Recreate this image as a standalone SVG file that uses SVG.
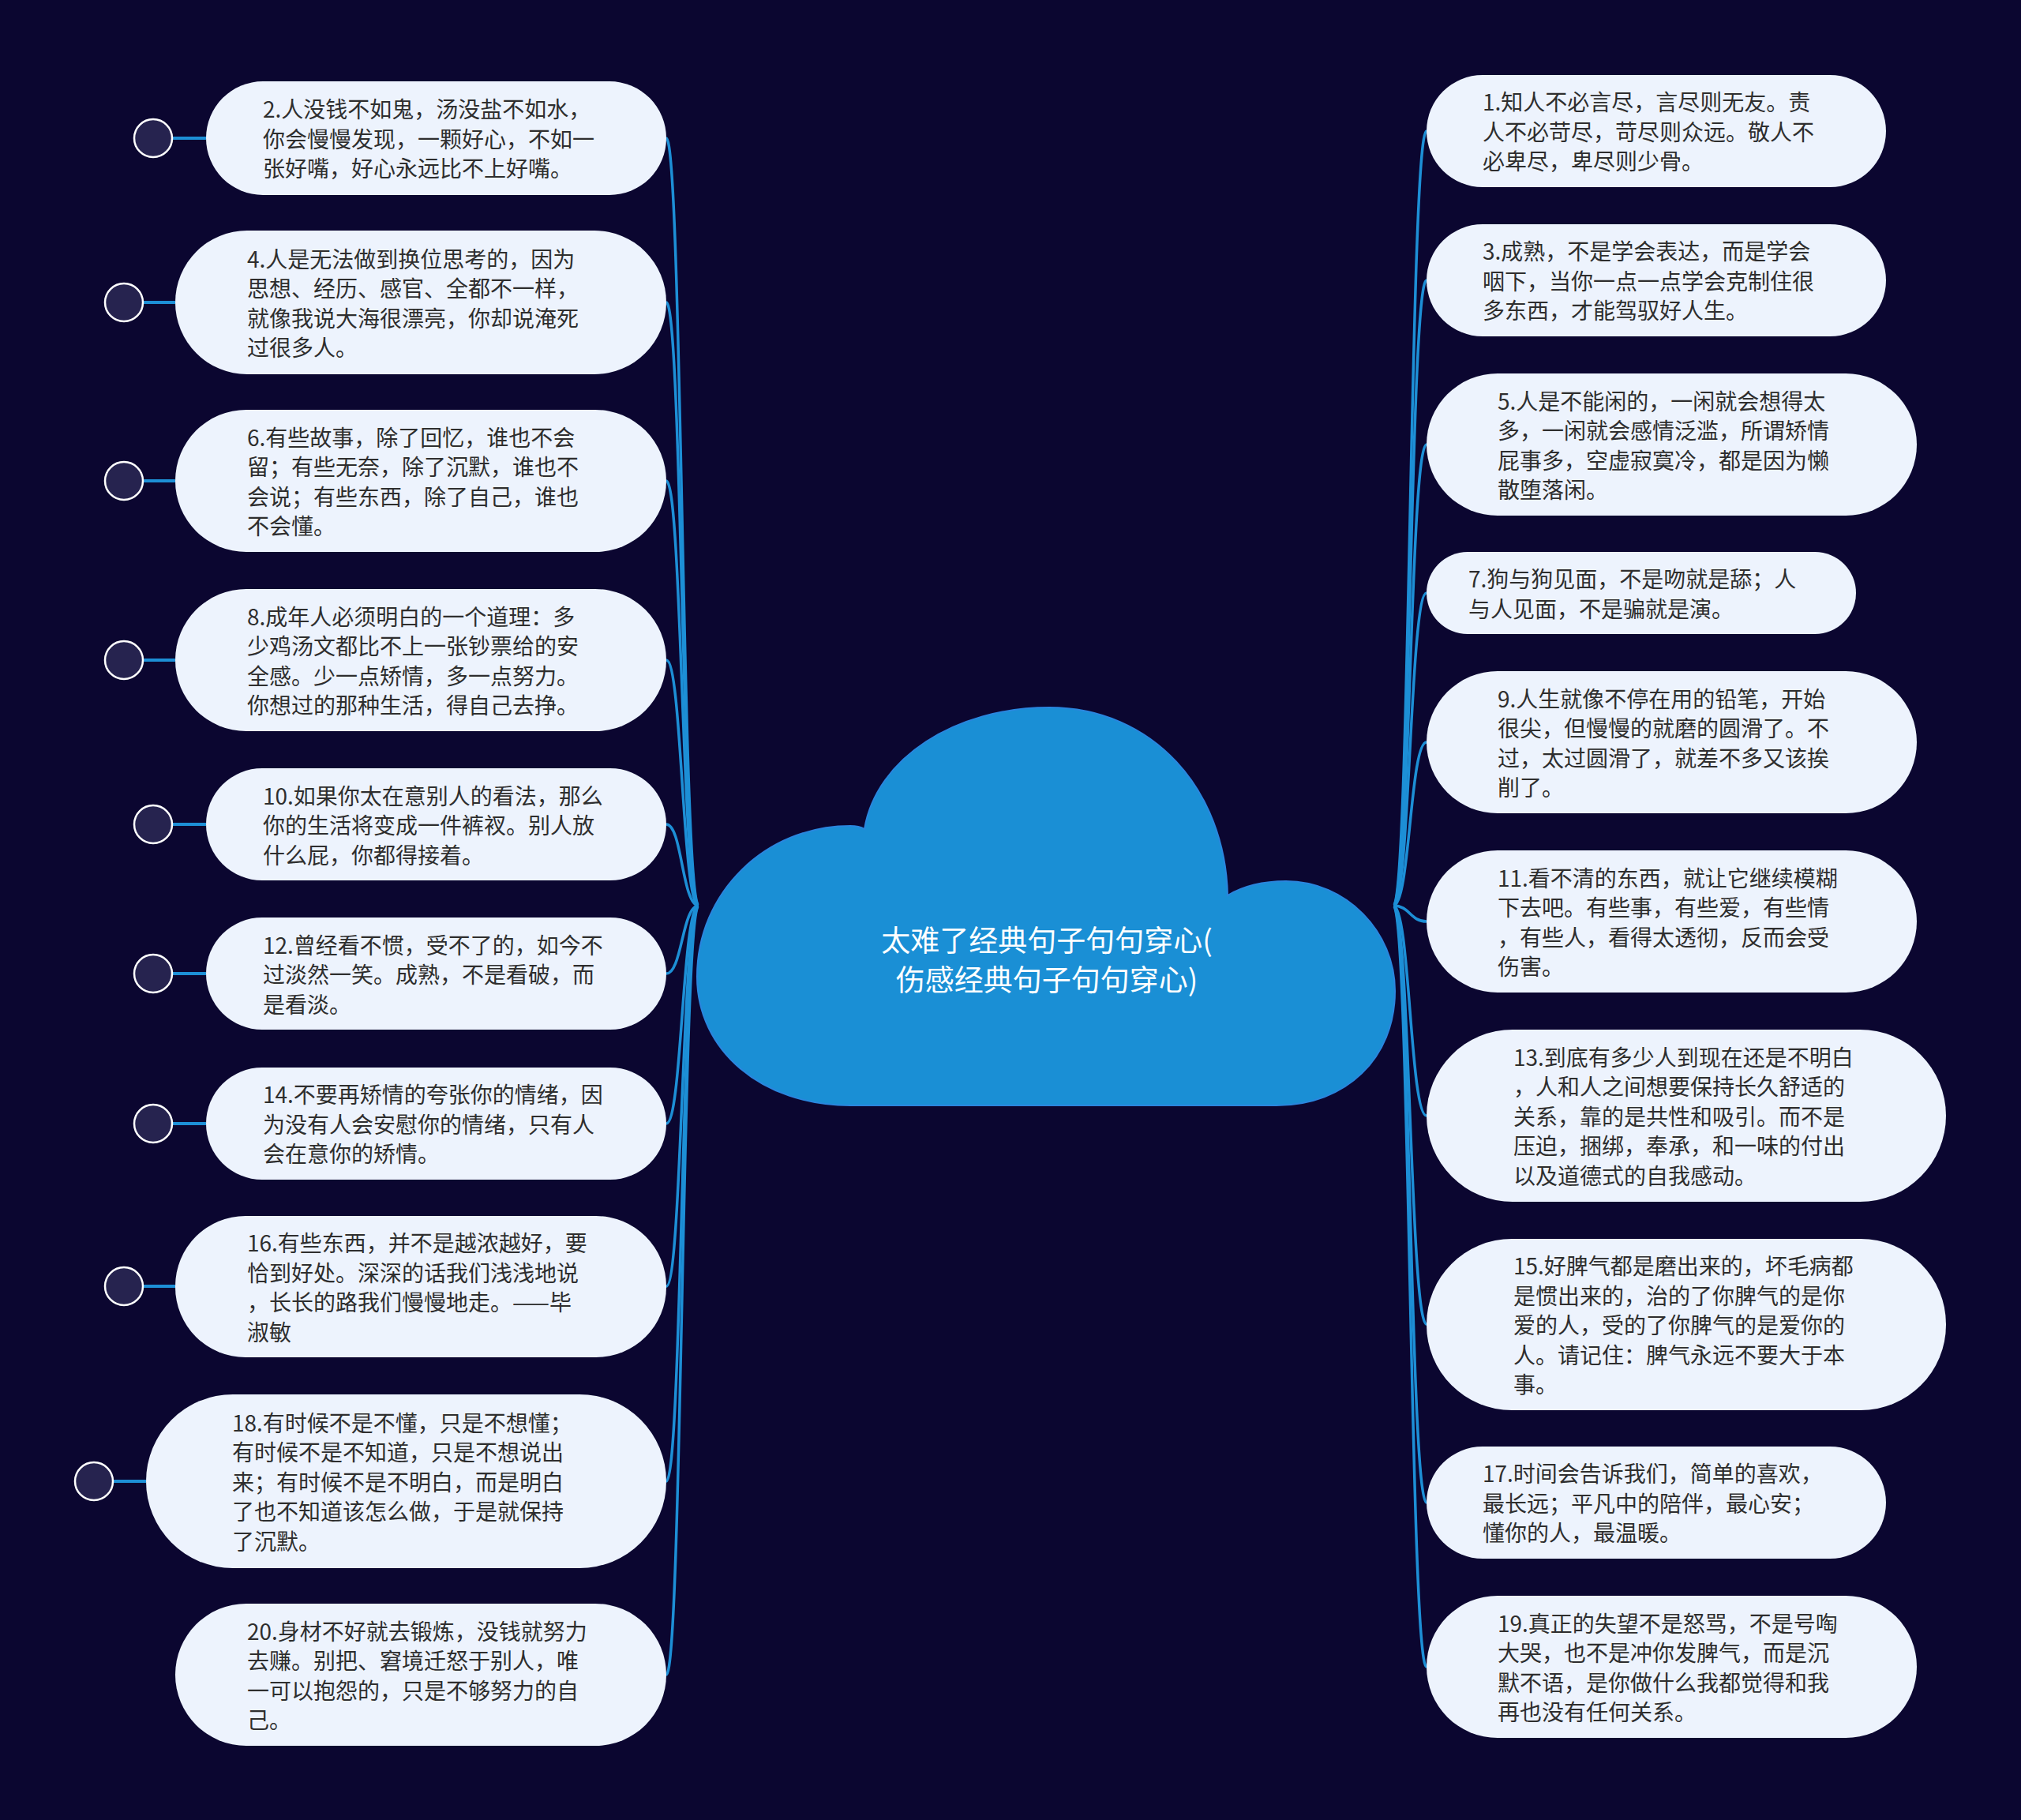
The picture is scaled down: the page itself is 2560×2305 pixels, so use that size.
<svg xmlns="http://www.w3.org/2000/svg" width="2560" height="2305" viewBox="0 0 2560 2305">
<style>
.bg{fill:#0b0630}
.node rect{fill:#edf3fd}
.node text{font-family:"Noto Sans CJK SC","Noto Sans",sans-serif;font-size:28px;fill:#2e2e2e;dominant-baseline:central}
.dot{fill:#26234f;stroke:#ffffff;stroke-width:2.5}
.stub{stroke:#1d8fd6;stroke-width:4;fill:none}
.conn path{stroke:#1d8fd6;stroke-width:3.5;fill:none}
.root path{fill:#1a8fd5;stroke:#2a86de;stroke-width:2}
.root text{font-family:"Noto Sans CJK SC","Noto Sans",sans-serif;font-size:37px;fill:#ffffff;text-anchor:middle;dominant-baseline:central}
</style>
<rect class="bg" x="0" y="0" width="2560" height="2305"/>

<g id="connectors" class="conn">
<path d="M885 1147 C864 1147 864 175 844 175"/>
<path d="M885 1147 C864 1147 864 383 844 383"/>
<path d="M885 1147 C864 1147 864 609 844 609"/>
<path d="M885 1147 C864 1147 864 836 844 836"/>
<path d="M885 1147 C864 1147 864 1044 844 1044"/>
<path d="M885 1147 C864 1147 864 1233 844 1233"/>
<path d="M885 1147 C864 1147 864 1423 844 1423"/>
<path d="M885 1147 C864 1147 864 1629 844 1629"/>
<path d="M885 1147 C864 1147 864 1876 844 1876"/>
<path d="M885 1147 C864 1147 864 2121 844 2121"/>
<path d="M1765 1147 C1786 1147 1786 166 1807 166"/>
<path d="M1765 1147 C1786 1147 1786 355 1807 355"/>
<path d="M1765 1147 C1786 1147 1786 563 1807 563"/>
<path d="M1765 1147 C1786 1147 1786 751 1807 751"/>
<path d="M1765 1147 C1786 1147 1786 940 1807 940"/>
<path d="M1765 1147 C1786 1147 1786 1167 1807 1167"/>
<path d="M1765 1147 C1786 1147 1786 1413 1807 1413"/>
<path d="M1765 1147 C1786 1147 1786 1677 1807 1677"/>
<path d="M1765 1147 C1786 1147 1786 1903 1807 1903"/>
<path d="M1765 1147 C1786 1147 1786 2111 1807 2111"/>
</g>

<g id="root" class="root">
<path d="M1077 1400 C965 1400 883 1330 883 1237 C883 1130 970 1046 1077 1046 C1085 1046 1090 1047 1095 1050 C1110 960 1210 896 1329 896 C1460 896 1552 1000 1555 1134 C1575 1122 1600 1116 1629 1116 C1705 1116 1767 1180 1767 1255 C1767 1340 1705 1400 1617 1400 Z"/>
<text x="1326" y="1189">太难了经典句子句句穿心(</text>
<text x="1326" y="1239">伤感经典句子句句穿心)</text>
</g>

<g id="n2" class="node">
<line class="stub" x1="218" y1="175" x2="261" y2="175"/><circle class="dot" cx="194" cy="175" r="24"/>
<rect x="261" y="103" width="583" height="144" rx="72"/>
<text x="333" y="137">2.人没钱不如鬼，汤没盐不如水，</text>
<text x="333" y="175">你会慢慢发现，一颗好心，不如一</text>
<text x="333" y="212">张好嘴，好心永远比不上好嘴。</text>
</g>
<g id="n4" class="node">
<line class="stub" x1="181" y1="383" x2="222" y2="383"/><circle class="dot" cx="157" cy="383" r="24"/>
<rect x="222" y="292" width="622" height="182" rx="91"/>
<text x="313" y="327">4.人是无法做到换位思考的，因为</text>
<text x="313" y="364">思想、经历、感官、全都不一样，</text>
<text x="313" y="402">就像我说大海很漂亮，你却说淹死</text>
<text x="313" y="439">过很多人。</text>
</g>
<g id="n6" class="node">
<line class="stub" x1="181" y1="609" x2="222" y2="609"/><circle class="dot" cx="157" cy="609" r="24"/>
<rect x="222" y="519" width="622" height="180" rx="90"/>
<text x="313" y="553">6.有些故事，除了回忆，谁也不会</text>
<text x="313" y="590">留；有些无奈，除了沉默，谁也不</text>
<text x="313" y="628">会说；有些东西，除了自己，谁也</text>
<text x="313" y="665">不会懂。</text>
</g>
<g id="n8" class="node">
<line class="stub" x1="181" y1="836" x2="222" y2="836"/><circle class="dot" cx="157" cy="836" r="24"/>
<rect x="222" y="746" width="622" height="180" rx="90"/>
<text x="313" y="780">8.成年人必须明白的一个道理：多</text>
<text x="313" y="817">少鸡汤文都比不上一张钞票给的安</text>
<text x="313" y="855">全感。少一点矫情，多一点努力。</text>
<text x="313" y="892">你想过的那种生活，得自己去挣。</text>
</g>
<g id="n10" class="node">
<line class="stub" x1="218" y1="1044" x2="261" y2="1044"/><circle class="dot" cx="194" cy="1044" r="24"/>
<rect x="261" y="973" width="583" height="142" rx="71"/>
<text x="333" y="1007">10.如果你太在意别人的看法，那么</text>
<text x="333" y="1044">你的生活将变成一件裤衩。别人放</text>
<text x="333" y="1082">什么屁，你都得接着。</text>
</g>
<g id="n12" class="node">
<line class="stub" x1="218" y1="1233" x2="261" y2="1233"/><circle class="dot" cx="194" cy="1233" r="24"/>
<rect x="261" y="1162" width="583" height="142" rx="71"/>
<text x="333" y="1196">12.曾经看不惯，受不了的，如今不</text>
<text x="333" y="1233">过淡然一笑。成熟，不是看破，而</text>
<text x="333" y="1271">是看淡。</text>
</g>
<g id="n14" class="node">
<line class="stub" x1="218" y1="1423" x2="261" y2="1423"/><circle class="dot" cx="194" cy="1423" r="24"/>
<rect x="261" y="1352" width="583" height="142" rx="71"/>
<text x="333" y="1385">14.不要再矫情的夸张你的情绪，因</text>
<text x="333" y="1423">为没有人会安慰你的情绪，只有人</text>
<text x="333" y="1460">会在意你的矫情。</text>
</g>
<g id="n16" class="node">
<line class="stub" x1="181" y1="1629" x2="222" y2="1629"/><circle class="dot" cx="157" cy="1629" r="24"/>
<rect x="222" y="1540" width="622" height="179" rx="89"/>
<text x="313" y="1573">16.有些东西，并不是越浓越好，要</text>
<text x="313" y="1611">恰到好处。深深的话我们浅浅地说</text>
<text x="313" y="1648">，长长的路我们慢慢地走。——毕</text>
<text x="313" y="1686">淑敏</text>
</g>
<g id="n18" class="node">
<line class="stub" x1="143" y1="1876" x2="185" y2="1876"/><circle class="dot" cx="119" cy="1876" r="24"/>
<rect x="185" y="1766" width="659" height="220" rx="110"/>
<text x="294" y="1801">18.有时候不是不懂，只是不想懂；</text>
<text x="294" y="1838">有时候不是不知道，只是不想说出</text>
<text x="294" y="1876">来；有时候不是不明白，而是明白</text>
<text x="294" y="1913">了也不知道该怎么做，于是就保持</text>
<text x="294" y="1951">了沉默。</text>
</g>
<g id="n20" class="node">
<rect x="222" y="2031" width="622" height="180" rx="90"/>
<text x="313" y="2065">20.身材不好就去锻炼，没钱就努力</text>
<text x="313" y="2102">去赚。别把、窘境迁怒于别人，唯</text>
<text x="313" y="2140">一可以抱怨的，只是不够努力的自</text>
<text x="313" y="2177">己。</text>
</g>

<g id="n1" class="node">
<rect x="1807" y="95" width="582" height="142" rx="71"/>
<text x="1878" y="128">1.知人不必言尽，言尽则无友。责</text>
<text x="1878" y="166">人不必苛尽，苛尽则众远。敬人不</text>
<text x="1878" y="203">必卑尽，卑尽则少骨。</text>
</g>
<g id="n3" class="node">
<rect x="1807" y="284" width="582" height="142" rx="71"/>
<text x="1878" y="317">3.成熟，不是学会表达，而是学会</text>
<text x="1878" y="355">咽下，当你一点一点学会克制住很</text>
<text x="1878" y="392">多东西，才能驾驭好人生。</text>
</g>
<g id="n5" class="node">
<rect x="1807" y="473" width="621" height="180" rx="90"/>
<text x="1897" y="507">5.人是不能闲的，一闲就会想得太</text>
<text x="1897" y="544">多，一闲就会感情泛滥，所谓矫情</text>
<text x="1897" y="582">屁事多，空虚寂寞冷，都是因为懒</text>
<text x="1897" y="619">散堕落闲。</text>
</g>
<g id="n7" class="node">
<rect x="1807" y="699" width="544" height="104" rx="52"/>
<text x="1860" y="732">7.狗与狗见面，不是吻就是舔；人</text>
<text x="1860" y="770">与人见面，不是骗就是演。</text>
</g>
<g id="n9" class="node">
<rect x="1807" y="850" width="621" height="180" rx="90"/>
<text x="1897" y="884">9.人生就像不停在用的铅笔，开始</text>
<text x="1897" y="921">很尖，但慢慢的就磨的圆滑了。不</text>
<text x="1897" y="959">过，太过圆滑了，就差不多又该挨</text>
<text x="1897" y="996">削了。</text>
</g>
<g id="n11" class="node">
<rect x="1807" y="1077" width="621" height="180" rx="90"/>
<text x="1897" y="1111">11.看不清的东西，就让它继续模糊</text>
<text x="1897" y="1148">下去吧。有些事，有些爱，有些情</text>
<text x="1897" y="1186">，有些人，看得太透彻，反而会受</text>
<text x="1897" y="1223">伤害。</text>
</g>
<g id="n13" class="node">
<rect x="1807" y="1304" width="658" height="218" rx="109"/>
<text x="1917" y="1338">13.到底有多少人到现在还是不明白</text>
<text x="1917" y="1375">，人和人之间想要保持长久舒适的</text>
<text x="1917" y="1413">关系，靠的是共性和吸引。而不是</text>
<text x="1917" y="1450">压迫，捆绑，奉承，和一味的付出</text>
<text x="1917" y="1488">以及道德式的自我感动。</text>
</g>
<g id="n15" class="node">
<rect x="1807" y="1569" width="658" height="217" rx="108"/>
<text x="1917" y="1602">15.好脾气都是磨出来的，坏毛病都</text>
<text x="1917" y="1640">是惯出来的，治的了你脾气的是你</text>
<text x="1917" y="1677">爱的人，受的了你脾气的是爱你的</text>
<text x="1917" y="1715">人。请记住：脾气永远不要大于本</text>
<text x="1917" y="1752">事。</text>
</g>
<g id="n17" class="node">
<rect x="1807" y="1832" width="582" height="142" rx="71"/>
<text x="1878" y="1865">17.时间会告诉我们，简单的喜欢，</text>
<text x="1878" y="1903">最长远；平凡中的陪伴，最心安；</text>
<text x="1878" y="1940">懂你的人，最温暖。</text>
</g>
<g id="n19" class="node">
<rect x="1807" y="2021" width="621" height="180" rx="90"/>
<text x="1897" y="2055">19.真正的失望不是怒骂，不是号啕</text>
<text x="1897" y="2092">大哭，也不是冲你发脾气，而是沉</text>
<text x="1897" y="2130">默不语，是你做什么我都觉得和我</text>
<text x="1897" y="2167">再也没有任何关系。</text>
</g>
</svg>
